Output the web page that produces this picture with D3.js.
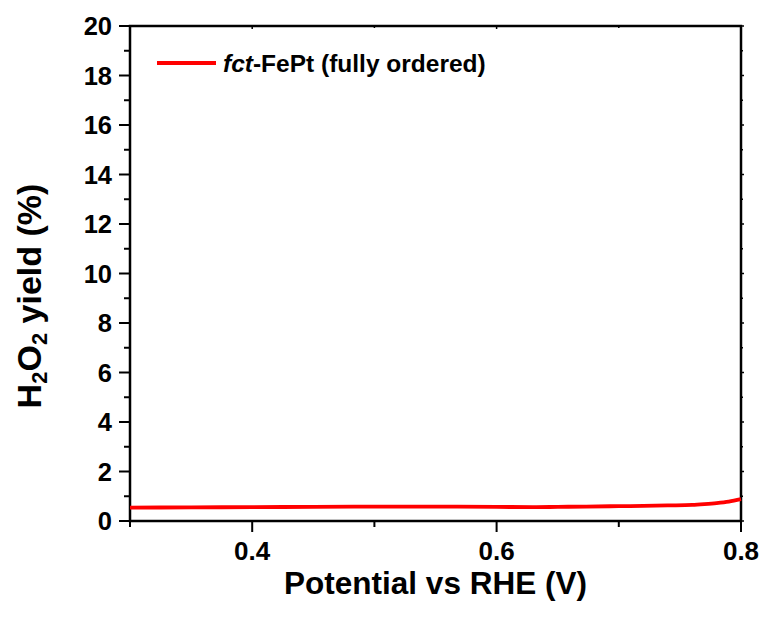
<!DOCTYPE html>
<html><head><meta charset="utf-8">
<script src="https://cdn.jsdelivr.net/npm/d3@7"></script>
<style>body{margin:0;background:#fff}svg{display:block}text{font-family:"Liberation Sans",Arial,sans-serif;font-weight:bold}</style>
</head><body>
<script>
const potential = [0.30,0.35,0.40,0.45,0.50,0.55,0.60,0.63,0.65,0.70,0.72,0.74,0.76,0.77,0.78,0.79,0.80];
const yieldPct  = [0.54,0.55,0.56,0.57,0.58,0.58,0.57,0.56,0.57,0.60,0.61,0.63,0.65,0.68,0.72,0.78,0.88];
const xTicks = [0.3,0.4,0.5,0.6,0.7,0.8];
const xLabels = [0.4,0.6,0.8];
const yTicks = d3.range(0,21,1);
const yLabels = [0,2,4,6,8,10,12,14,16,18,20];
const seriesName = "-FePt (fully ordered)";

const W=764,H=619, L=130,R=741,T=26,B=521;
const svg=d3.select("body").append("svg").attr("width",W).attr("height",H);
const x=d3.scaleLinear().domain([0.3,0.8]).range([L,R]);
const y=d3.scaleLinear().domain([0,20]).range([B,T]);

const g=svg.append("g");
xTicks.forEach(v=>{
  const major=xLabels.includes(v);
  g.append("line").attr("x1",x(v)).attr("x2",x(v)).attr("y1",B).attr("y2",B+(major?11:6)).attr("stroke","#000").attr("stroke-width",2);
  g.append("line").attr("x1",x(v)).attr("x2",x(v)).attr("y1",T).attr("y2",T+(major?3:2)).attr("stroke","#000").attr("stroke-width",1.5);
});
yTicks.forEach(v=>{
  const major=yLabels.includes(v);
  g.append("line").attr("y1",y(v)).attr("y2",y(v)).attr("x1",L).attr("x2",L-(major?11:6)).attr("stroke","#000").attr("stroke-width",2);
  g.append("line").attr("y1",y(v)).attr("y2",y(v)).attr("x1",R).attr("x2",R+(major?3:2)).attr("stroke","#000").attr("stroke-width",1.5);
});
xLabels.forEach(v=>{
  svg.append("text").attr("x",x(v)).attr("y",560).attr("text-anchor","middle").attr("font-size",26).text(d3.format(".1f")(v));
});
yLabels.forEach(v=>{
  svg.append("text").attr("x",112).attr("y",y(v)+9).attr("text-anchor","end").attr("font-size",25.5).text(v);
});
svg.append("rect").attr("x",L).attr("y",T).attr("width",R-L).attr("height",B-T).attr("fill","none").attr("stroke","#000").attr("stroke-width",2.5);

const line=d3.line().x((d,i)=>x(potential[i])).y(d=>y(d)).curve(d3.curveMonotoneX);
svg.append("path").datum(yieldPct).attr("d",line).attr("fill","none").attr("stroke","#ff0000").attr("stroke-width",3.8);

svg.append("line").attr("x1",157).attr("x2",216).attr("y1",63).attr("y2",63).attr("stroke","#ff0000").attr("stroke-width",3.8);
const lt=svg.append("text").attr("x",223).attr("y",72).attr("font-size",24.5);
lt.append("tspan").attr("font-style","italic").text("fct");
lt.append("tspan").text(seriesName);

svg.append("text").attr("x",(L+R)/2).attr("y",594).attr("text-anchor","middle").attr("font-size",31.5).text("Potential vs RHE (V)");
const yt=svg.append("text").attr("transform","translate(41,296) rotate(-90)").attr("text-anchor","middle").attr("font-size",34);
yt.append("tspan").text("H");
yt.append("tspan").attr("font-size",22).attr("dy",6).text("2");
yt.append("tspan").attr("dy",-6).text("O");
yt.append("tspan").attr("font-size",22).attr("dy",6).text("2");
yt.append("tspan").attr("dy",-6).text(" yield (%)");
</script>
</body></html>
